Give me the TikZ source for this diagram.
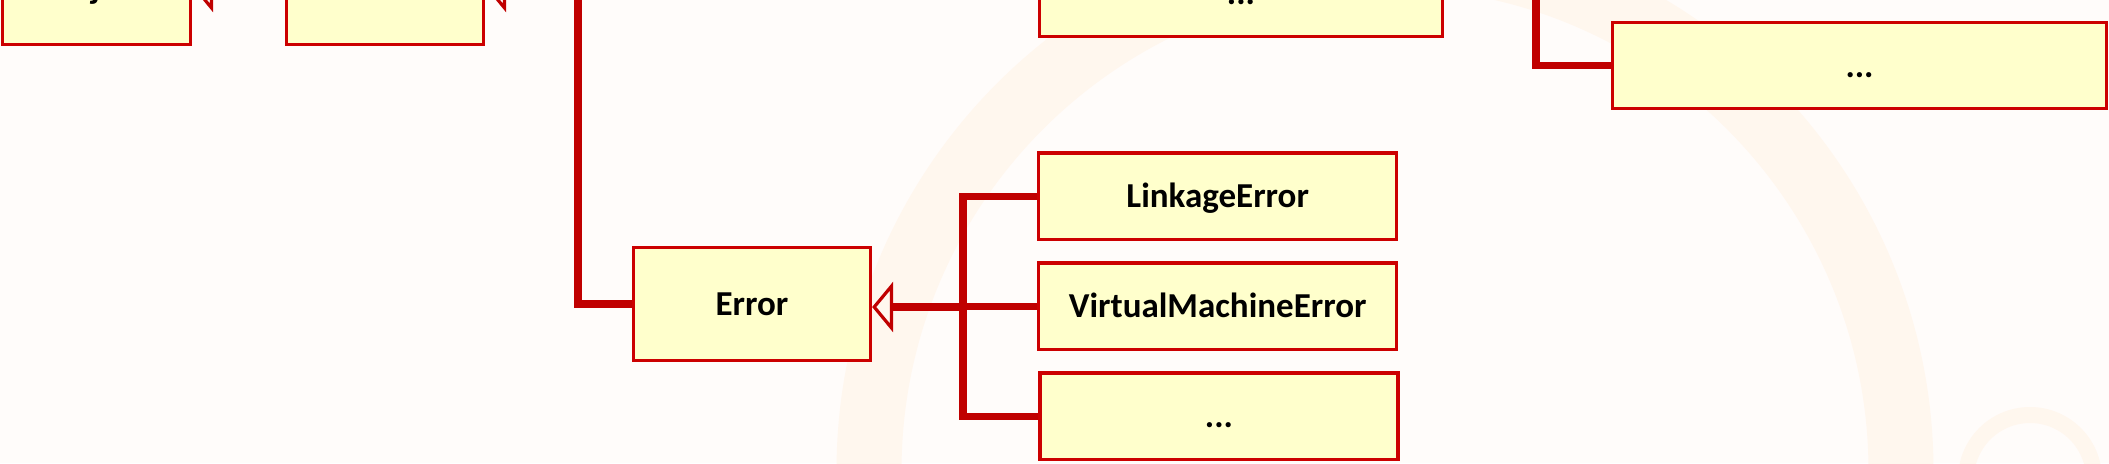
\documentclass[tikz,border=0pt]{standalone}
\usepackage{fontspec}
\setmainfont{Carlito}
\usetikzlibrary{arrows.meta}
\definecolor{boxfill}{HTML}{FFFFCC}
\definecolor{boxline}{HTML}{CC0000}
\definecolor{conncol}{HTML}{C00000}
\definecolor{bgcol}{HTML}{FFFCFA}
\definecolor{ringcol}{HTML}{FFF7EE}
\begin{document}
\begin{tikzpicture}[x=0.5pt,y=-0.5pt,
  cls/.style={draw=boxline, fill=boxfill, line width=1.6pt, inner sep=0pt,
    font=\bfseries\fontsize{17.5}{20}\selectfont, text height=11.3pt, text depth=0pt},
  wire/.style={draw=conncol, line width=3.6pt},
  inherit/.style={wire, -{Triangle[open, length=10.5pt, width=25pt, line width=1.6pt]}}]
\useasboundingbox (0,0) rectangle (2109,463);
\clip (0,0) rectangle (2109,463);
\fill[bgcol] (0,0) rectangle (2109,463);
\draw[ringcol, line width=32.5pt] (1385,471) circle[radius=258pt];
\draw[ringcol, line width=8pt] (2030,479) circle[radius=32pt];

\node[cls, minimum width=94pt, minimum height=57.5pt] (obj) at (96.5,-13) {Object};
\node[cls, minimum width=98.5pt, minimum height=57.5pt] (thr) at (385,-13) {};
\node[cls, minimum width=201.5pt, minimum height=43.25pt] (dotsA) at (1241,-7) {...};
\node[cls, minimum width=247pt, minimum height=43pt] (dotsB) at (1859.5,65.7) {...};
\node[cls, minimum width=118.5pt, minimum height=56.5pt] (err) at (752,304) {Error};
\node[cls, minimum width=179pt, minimum height=43.25pt] (linkage) at (1217.7,196.2) {LinkageError};
\node[cls, minimum width=179pt, minimum height=43.25pt] (vme) at (1217.7,306.3) {VirtualMachineError};
\node[cls, minimum width=179pt, minimum height=43.25pt] (dotsC) at (1219,416.3) {...};

\coordinate (busT) at (578,-13);
\draw[inherit] (thr.west) -- (obj.east);
\draw[inherit] (busT) -- (thr.east);
\draw[wire] (busT) |- (err.west);

\coordinate (eb) at (963,307);
\draw[inherit] (eb) -- (eb -| err.east);
\draw[wire] (linkage.west) -| (dotsC.west -| eb) -- (dotsC.west);
\draw[wire] (vme.west) -- (vme.west -| eb);

\coordinate (rtop) at (1536,-30);
\draw[wire] (rtop) |- (dotsB.west);
\end{tikzpicture}
\end{document}
